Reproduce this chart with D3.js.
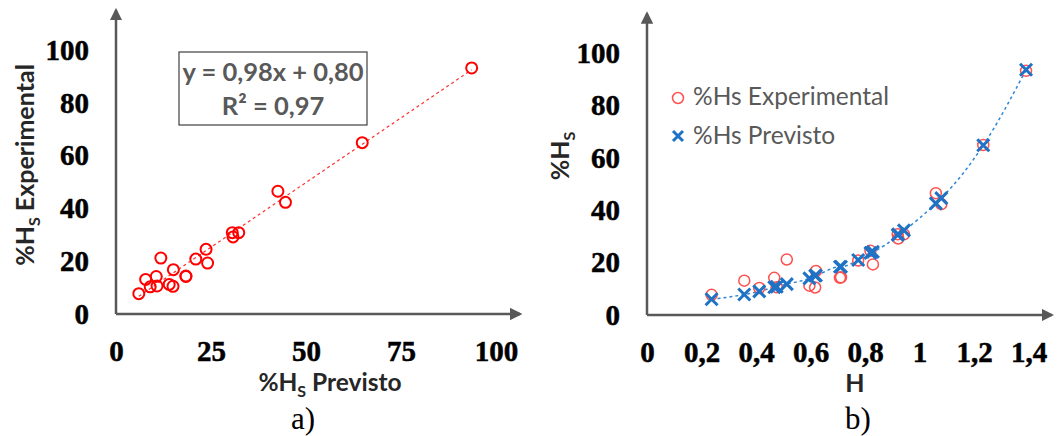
<!DOCTYPE html>
<html>
<head>
<meta charset="utf-8">
<script src="https://cdn.jsdelivr.net/npm/d3@7"></script>
<style>
  body { margin: 0; background: #fff; }
</style>
</head>
<body>
<script>
// H, %Hs experimental, %Hs previsto (same 21 samples in both panels)
const H     = [0.237, 0.357, 0.412, 0.467, 0.476, 0.513, 0.596, 0.617, 0.620, 0.708, 0.712, 0.775, 0.820, 0.829, 0.920, 0.922, 0.943, 1.060, 1.080, 1.234, 1.391];
const hsExp = [7.7, 13.1, 10.3, 14.2, 10.6, 21.2, 11.2, 10.5, 16.8, 14.2, 14.4, 20.8, 24.5, 19.3, 30.8, 29.2, 30.8, 46.5, 42.3, 64.9, 93.2];
const hsPrev = [6.0, 7.8, 9.0, 10.6, 10.8, 11.8, 14.0, 15.0, 15.1, 18.4, 18.4, 21.0, 23.7, 24.1, 30.6, 30.8, 32.3, 42.6, 44.6, 64.8, 93.6];
const fitSlope = 0.98, fitIntercept = 0.80;
const xTicksA = [0, 25, 50, 75, 100];
const yTicks = [0, 20, 40, 60, 80, 100];
const xTicksB = [0, 0.2, 0.4, 0.6, 0.8, 1, 1.2, 1.4];

const width = 1062, height = 436;
const svg = d3.select("body").append("svg").attr("width", width).attr("height", height);
const comma = d => d3.format("")(d).replace(".", ",");
const labelFont = "Lato, sans-serif";

const defs = svg.append("defs");
defs.append("marker")
    .attr("id", "arrow")
    .attr("viewBox", "0 0 10 10")
    .attr("refX", 8).attr("refY", 5)
    .attr("markerWidth", 5).attr("markerHeight", 5)
    .attr("orient", "auto")
    .append("path").attr("d", "M0,0 L10,5 L0,10 z").attr("fill", "#595959");

function styleTicks(s) {
    s.select(".domain").remove();
    s.selectAll("text")
        .style("font-family", "'Liberation Serif', serif")
        .style("font-weight", "bold")
        .style("font-size", "29px")
        .style("fill", "#000")
        .style("stroke", "#000").style("stroke-width", 0.5);
}

function drawAxes(x, y, xTicks, xMax, yMax) {
    const g = svg.append("g");
    g.append("g")
        .attr("transform", `translate(${x(0)},0)`)
        .call(d3.axisLeft(y).tickValues(yTicks).tickSize(0).tickPadding(27).tickFormat(comma))
        .call(styleTicks);
    g.append("g")
        .attr("transform", `translate(0,${y(0)})`)
        .call(d3.axisBottom(x).tickValues(xTicks).tickSize(0).tickPadding(26).tickFormat(comma))
        .call(styleTicks);
    g.append("line")
        .attr("x1", x(0)).attr("y1", y(0)).attr("x2", x(0)).attr("y2", y(yMax))
        .attr("stroke", "#595959").attr("stroke-width", 2.5).attr("marker-end", "url(#arrow)");
    g.append("line")
        .attr("x1", x(0)).attr("y1", y(0)).attr("x2", x(xMax)).attr("y2", y(0))
        .attr("stroke", "#595959").attr("stroke-width", 2.5).attr("marker-end", "url(#arrow)");
}

function subLabel(sel, main, sub, rest, size) {
    sel.style("font-family", labelFont).style("font-weight", "bold")
        .style("font-size", size + "px").style("fill", "#262626");
    sel.append("tspan").text(main);
    sel.append("tspan").attr("dy", 6).style("font-size", Math.round(size * 0.65) + "px").text(sub);
    if (rest) sel.append("tspan").attr("dy", -6).text(rest);
}

// ---------- panel a)
const xA = d3.scaleLinear().domain([0, 100]).range([116, 496]);
const yA = d3.scaleLinear().domain([0, 100]).range([314, 50]);
drawAxes(xA, yA, xTicksA, 106.3, 115);

const [pMin, pMax] = d3.extent(hsPrev);
svg.append("line")
    .attr("x1", xA(pMin)).attr("y1", yA(fitSlope * pMin + fitIntercept))
    .attr("x2", xA(pMax)).attr("y2", yA(fitSlope * pMax + fitIntercept))
    .attr("stroke", "#ff3030").attr("stroke-width", 1.2).attr("stroke-dasharray", "3,3");

svg.append("g").selectAll("circle")
    .data(hsPrev.map((p, i) => ({p, e: hsExp[i]})))
    .join("circle")
    .attr("cx", d => xA(d.p)).attr("cy", d => yA(d.e)).attr("r", 5.5)
    .attr("fill", "none").attr("stroke", "#ff0000").attr("stroke-width", 2);

svg.append("rect")
    .attr("x", 179).attr("y", 52).attr("width", 188).attr("height", 73)
    .attr("fill", "#fff").attr("stroke", "#404040").attr("stroke-width", 1.2);
const eq = svg.append("text")
    .attr("text-anchor", "middle")
    .style("font-family", labelFont).style("font-weight", "bold")
    .style("font-size", "25.5px").style("fill", "#595959");
eq.append("tspan").attr("x", 273).attr("y", 81).text(`y = ${comma(fitSlope)}x + ${d3.format(".2f")(fitIntercept).replace(".", ",")}`);
eq.append("tspan").attr("x", 273).attr("y", 115).text("R² = 0,97");

svg.append("text")
    .attr("transform", "translate(34,165) rotate(-90)").attr("text-anchor", "middle")
    .call(subLabel, "%H", "S", " Experimental", 25);

svg.append("text")
    .attr("x", 330).attr("y", 391).attr("text-anchor", "middle")
    .call(subLabel, "%H", "S", " Previsto", 24.5);

svg.append("text").attr("x", 303).attr("y", 429).attr("text-anchor", "middle")
    .style("font-family", "'Liberation Serif', serif").style("font-size", "31px").text("a)");

// ---------- panel b)
const xB = d3.scaleLinear().domain([0, 1.4]).range([647, 1028.5]);
const yB = d3.scaleLinear().domain([0, 100]).range([315, 53]);
drawAxes(xB, yB, xTicksB, 1.485, 115);

const prevPts = H.map((h, i) => ({h, v: hsPrev[i]})).sort((a, b) => a.h - b.h);
svg.append("path")
    .datum(prevPts)
    .attr("d", d3.line().x(d => xB(d.h)).y(d => yB(d.v)).curve(d3.curveMonotoneX))
    .attr("fill", "none").attr("stroke", "#2e86d6").attr("stroke-width", 1.5).attr("stroke-dasharray", "3,3");

svg.append("g").selectAll("circle")
    .data(H.map((h, i) => ({h, v: hsExp[i]})))
    .join("circle")
    .attr("cx", d => xB(d.h)).attr("cy", d => yB(d.v)).attr("r", 5.5)
    .attr("fill", "none").attr("stroke", "#ff5050").attr("stroke-width", 1.5);

const cross = (g, s) => g.append("path")
    .attr("d", `M${-s},${-s}L${s},${s}M${-s},${s}L${s},${-s}`)
    .attr("stroke", "#1f72c4").attr("stroke-width", 3).attr("fill", "none");
svg.append("g").selectAll("g")
    .data(prevPts)
    .join("g")
    .attr("transform", d => `translate(${xB(d.h)},${yB(d.v)})`)
    .each(function () { cross(d3.select(this), 6); });

// legend
svg.append("circle").attr("cx", 678).attr("cy", 98).attr("r", 5.5)
    .attr("fill", "none").attr("stroke", "#ff5050").attr("stroke-width", 1.5);
svg.append("text").attr("x", 693).attr("y", 105).text("%Hs Experimental")
    .style("font-family", labelFont).style("font-size", "24.5px").style("fill", "#595959");
cross(svg.append("g").attr("transform", "translate(678,136)"), 5);
svg.append("text").attr("x", 693).attr("y", 144).text("%Hs Previsto")
    .style("font-family", labelFont).style("font-size", "24.5px").style("fill", "#595959");

svg.append("text")
    .attr("transform", "translate(569,156) rotate(-90)").attr("text-anchor", "middle")
    .call(subLabel, "%H", "S", null, 25);

svg.append("text")
    .attr("x", 855).attr("y", 392).attr("text-anchor", "middle")
    .style("font-family", labelFont).style("font-weight", "bold")
    .style("font-size", "25px").style("fill", "#262626").text("H");

svg.append("text").attr("x", 858).attr("y", 429).attr("text-anchor", "middle")
    .style("font-family", "'Liberation Serif', serif").style("font-size", "31px").text("b)");
</script>
</body>
</html>
